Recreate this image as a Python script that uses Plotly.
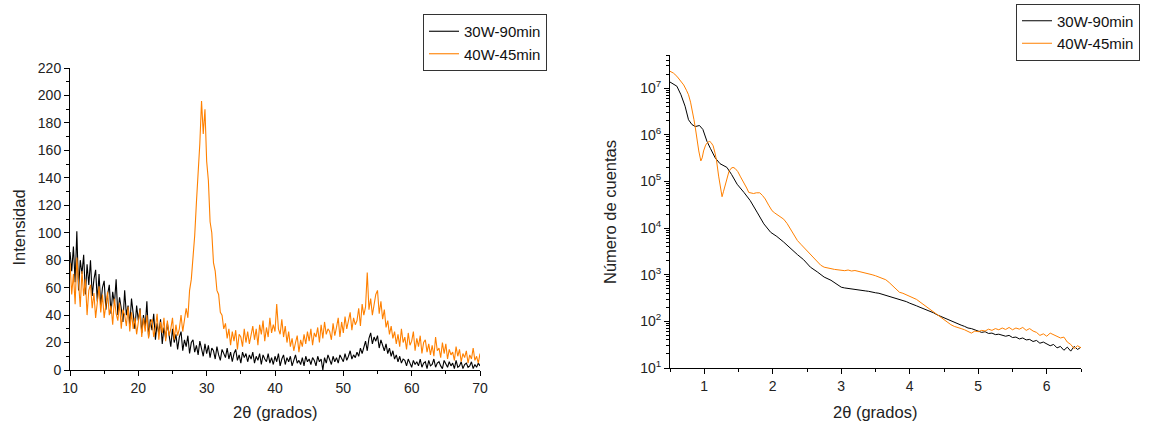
import numpy as np
import plotly.graph_objects as go

# ---------------- Left chart data (XRD, 2theta 10..70, step 0.25) ----------------
xrd_theta = np.arange(10, 70.001, 0.25)

xrd_30w = [
    86, 72, 90, 64, 101, 58, 80, 70, 84, 55, 77, 62, 80, 54, 66, 73,
    50, 70, 47, 60, 65, 44, 55, 62, 41, 57, 48, 66, 40, 53, 45, 35,
    58, 40, 47, 33, 52, 38, 30, 47, 36, 45, 27, 40, 31, 50, 24, 37,
    29, 41, 22, 34, 26, 37, 19, 31, 23, 34, 27, 17, 30, 20, 26, 15,
    24, 28, 14, 22, 17, 25, 12, 20, 22, 13, 18, 11, 21, 15, 10, 19,
    12, 18, 9, 16, 14, 8, 17, 11, 7, 15, 12, 9, 16, 8, 13, 6,
    12, 15, 7, 11, 5, 13, 9, 12, 6, 11, 8, 13, 5, 10, 7, 12,
    4, 11, 8, 6, 12, 5, 9, 4, 10, 6, 12, 3, 8, 11, 4, 9,
    6, 10, 3, 8, 11, 5, 7, 4, 9, 3, 10, 6, 8, 4, 9, 7,
    3, 10, 6, 8, 0, 9, 5, 11, 7, 4, 10, 6, 9, 5, 11, 8,
    6, 12, 7, 10, 14, 8, 11, 9, 13, 10, 16, 12, 17, 21, 14, 23,
    27, 19, 24, 21, 25, 16, 22, 18, 14, 19, 12, 16, 10, 14, 8, 11,
    6, 10, 5, 8, 7, 3, 8, 5, 2, 7, 4, 6, 3, 8, 2, 5,
    6, 1, 7, 3, 4, 8, 2, 5, 6, 3, 1, 7, 4, 2, 6, 3,
    5, 1, 7, 2, 3, 6, 1, 4, 5, 2, 3, 6, 1, 4, 2, 5,
    3,
]

xrd_40w = [
    78, 55, 70, 48, 82, 60, 46, 72, 54, 66, 40, 58, 62, 45, 56, 38,
    52, 61, 42, 55, 38, 50, 57, 40, 47, 33, 52, 41, 36, 49, 30, 44,
    40, 32, 46, 28, 42, 30, 38, 26, 35, 44, 24, 38, 28, 40, 23, 34,
    37, 24, 31, 41, 22, 35, 27, 38, 21, 36, 25, 30, 38, 22, 33, 25,
    30, 40, 28, 36, 45, 38, 58, 66, 82, 98, 122, 140, 165, 196, 172, 190,
    152, 138, 108, 100, 78, 72, 58, 55, 42, 40, 30, 34, 23, 30, 18, 28,
    21, 29, 15, 26, 24, 17, 30, 20, 28, 19, 25, 32, 22, 30, 18, 33,
    26, 36, 21, 31, 24, 38, 27, 33, 28, 48, 30, 26, 37, 24, 32, 20,
    28, 17, 23, 14, 20, 25, 13, 22, 17, 26, 19, 28, 21, 30, 18, 27,
    24, 31, 20, 33, 23, 35, 26, 30, 28, 22, 34, 25, 31, 38, 24, 35,
    27, 39, 30, 36, 42, 29, 38, 33, 36, 45, 32, 48, 40, 46, 71, 44,
    52, 40, 49, 55, 58, 41, 50, 37, 44, 31, 36, 26, 32, 23, 28, 19,
    26, 17, 30, 20, 24, 15, 27, 18, 21, 28, 14, 23, 17, 25, 12, 20,
    22, 13, 19, 11, 18, 10, 24, 14, 16, 9, 20, 12, 19, 8, 15, 11,
    13, 7, 17, 10, 15, 6, 12, 9, 14, 5, 11, 8, 16, 7, 10, 5,
    12,
]

# ---------------- Right chart data (XRR, log counts) ----------------
xrr_30w_theta = [
    0.50, 0.55, 0.60, 0.66, 0.72, 0.77, 0.82, 0.87, 0.93, 0.98, 1.04, 1.09,
    1.16, 1.23, 1.33, 1.40, 1.48, 1.58, 1.67, 1.77, 1.87, 1.97, 2.06, 2.16,
    2.26, 2.36, 2.45, 2.55, 2.65, 2.75, 2.85, 2.92,
    3.00, 3.05, 3.10, 3.15, 3.20, 3.25, 3.30, 3.35, 3.40, 3.45, 3.50, 3.55,
    3.60, 3.65, 3.70, 3.75, 3.80, 3.85, 3.90, 3.95, 4.00, 4.05, 4.10, 4.15,
    4.20, 4.25, 4.30, 4.35, 4.40, 4.45, 4.50, 4.55, 4.60, 4.65, 4.70, 4.75,
    4.80, 4.85, 4.90, 4.95, 5.00, 5.05, 5.10, 5.15, 5.20, 5.25, 5.30, 5.35,
    5.40, 5.45, 5.50, 5.55, 5.60, 5.65, 5.70, 5.75, 5.80, 5.85, 5.90, 5.95,
    6.00, 6.05, 6.10, 6.15, 6.20, 6.25, 6.30, 6.35, 6.40, 6.45, 6.50,
]
xrr_30w = [
    1.35e7, 1.2e7, 1.1e7, 7.2e6, 4.1e6, 2.1e6, 1.66e6, 1.5e6, 1.58e6, 1.3e6, 7.2e5, 5.1e5,
    3.2e5, 2.4e5, 2.0e5, 1.4e5, 8.7e4, 5.8e4, 3.9e4, 2.2e4, 1.23e4, 8.1e3, 6.6e3, 5.0e3,
    3.6e3, 2.7e3, 2.1e3, 1.45e3, 1.15e3, 890, 760, 650,
    540, 520, 505, 500, 480, 470, 462, 450, 440, 420, 410, 400,
    380, 370, 352, 335, 320, 295, 280, 265, 245, 232, 215, 200,
    188, 175, 160, 152, 138, 128, 120, 108, 100, 95, 86, 83,
    78, 72, 70, 66, 62, 58, 60, 55, 56, 52, 53, 50,
    48, 50, 45, 46, 42, 44, 40, 41, 37, 39, 34, 36,
    33, 30, 32, 27, 29, 24, 28, 23, 29, 25, 28,
]

xrr_40w_theta = [
    0.50, 0.55, 0.60, 0.65, 0.70, 0.74, 0.77, 0.80, 0.82, 0.85, 0.87, 0.90,
    0.92, 0.95, 0.97, 0.99, 1.02, 1.05, 1.08, 1.10, 1.13, 1.16, 1.18, 1.21,
    1.23, 1.26, 1.28, 1.31, 1.34, 1.36, 1.39, 1.42, 1.45, 1.49, 1.53, 1.58,
    1.62, 1.65, 1.69, 1.72, 1.76, 1.81, 1.85, 1.89, 1.94, 1.99, 2.03, 2.06,
    2.11, 2.16, 2.21, 2.26, 2.31, 2.36, 2.41, 2.45, 2.50, 2.55, 2.60, 2.65,
    2.70, 2.75, 2.80, 2.85, 2.90, 2.95, 3.00, 3.05, 3.10, 3.15, 3.20, 3.25,
    3.30, 3.35, 3.40, 3.45, 3.50, 3.55, 3.60, 3.65, 3.70, 3.75, 3.80, 3.85,
    3.90, 3.95, 4.00, 4.05, 4.10, 4.15, 4.20, 4.25, 4.30, 4.35, 4.40, 4.45,
    4.50, 4.55, 4.60, 4.65, 4.70, 4.75, 4.80, 4.85, 4.90, 4.95, 5.00, 5.05,
    5.10, 5.15, 5.20, 5.25, 5.30, 5.35, 5.40, 5.45, 5.50, 5.55, 5.60, 5.65,
    5.70, 5.75, 5.80, 5.85, 5.90, 5.95, 6.00, 6.05, 6.10, 6.15, 6.20, 6.25,
    6.30, 6.35, 6.40, 6.45, 6.50,
]
xrr_40w = [
    2.3e7, 2.1e7, 1.8e7, 1.45e7, 1.17e7, 9.0e6, 7.2e6, 5.0e6, 3.7e6, 2.1e6, 1.4e6, 6.5e5,
    4.5e5, 2.75e5, 3.2e5, 4.5e5, 6.0e5, 6.9e5, 7.2e5, 6.8e5, 5.8e5, 3.9e5, 2.75e5, 1.3e5,
    8.7e4, 4.7e4, 6.0e4, 8.7e4, 1.3e5, 1.62e5, 1.9e5, 2.0e5, 1.9e5, 1.62e5, 1.25e5, 9.5e4,
    7.2e4, 5.8e4, 5.5e4, 5.5e4, 5.7e4, 5.7e4, 5.0e4, 4.2e4, 3.1e4, 2.35e4, 2.1e4, 1.95e4,
    1.75e4, 1.55e4, 1.25e4, 9.5e3, 7.0e3, 5.4e3, 4.5e3, 3.9e3, 3.3e3, 2.8e3, 2.3e3, 1.86e3,
    1.6e3, 1.45e3, 1.38e3, 1.35e3, 1.3e3, 1.28e3, 1.25e3, 1.22e3, 1.26e3, 1.2e3, 1.23e3, 1.18e3,
    1.15e3, 1.12e3, 1.06e3, 1.0e3, 950, 880, 830, 780, 680, 580, 480, 420,
    400, 370, 350, 320, 295, 260, 230, 200, 180, 160, 140, 120,
    108, 95, 85, 78, 75, 70, 66, 60, 56, 62, 60, 64,
    62, 68, 64, 70, 66, 72, 67, 74, 66, 72, 68, 74,
    64, 70, 62, 58, 50, 54, 48, 56, 52, 48, 44, 46,
    36, 32, 26, 30, 27,
]

series_names = ["30W-90min", "40W-45min"]
series_colors = ["#000000", "#FF8000"]

log_tickvals = [1e1, 1e2, 1e3, 1e4, 1e5, 1e6, 1e7]
log_ticktext = ["10<sup>1</sup>", "10<sup>2</sup>", "10<sup>3</sup>", "10<sup>4</sup>",
                "10<sup>5</sup>", "10<sup>6</sup>", "10<sup>7</sup>"]

W, H = 1150, 423
FONT = "Liberation Sans, Arial, sans-serif"
TXT = "#222222"

fig = go.Figure()

fig.add_trace(go.Scatter(x=xrd_theta, y=xrd_30w, mode="lines", name=series_names[0],
                         line=dict(color=series_colors[0], width=1.1),
                         xaxis="x", yaxis="y", legend="legend"))
fig.add_trace(go.Scatter(x=xrd_theta, y=xrd_40w, mode="lines", name=series_names[1],
                         line=dict(color=series_colors[1], width=1.1),
                         xaxis="x", yaxis="y", legend="legend"))
fig.add_trace(go.Scatter(x=xrr_30w_theta, y=xrr_30w, mode="lines", name=series_names[0],
                         line=dict(color=series_colors[0], width=1.0),
                         xaxis="x2", yaxis="y2", legend="legend2"))
fig.add_trace(go.Scatter(x=xrr_40w_theta, y=xrr_40w, mode="lines", name=series_names[1],
                         line=dict(color=series_colors[1], width=1.0),
                         xaxis="x2", yaxis="y2", legend="legend2"))

axis_common = dict(showline=True, linecolor="black", linewidth=1, ticks="outside",
                   ticklen=5, tickcolor="black", tickwidth=1, showgrid=False, zeroline=False,
                   tickfont=dict(family=FONT, size=14, color=TXT),
                   mirror=False, automargin=False)

legend_common = dict(bgcolor="white", bordercolor="#333", borderwidth=1,
                     font=dict(family=FONT, size=15, color="#111"),
                     xanchor="left", yanchor="middle", tracegroupgap=0,
                     itemwidth=30)

fig.update_layout(
    width=W, height=H,
    margin=dict(l=0, r=0, t=0, b=0),
    paper_bgcolor="white", plot_bgcolor="white",
    xaxis=dict(domain=[70 / W, 480 / W], range=[10, 70], tickvals=[10, 20, 30, 40, 50, 60, 70],
               minor=dict(ticks="outside", ticklen=3, dtick=5, tickcolor="black"),
               anchor="y", **axis_common),
    yaxis=dict(domain=[(H - 370) / H, (H - 68) / H], range=[0, 220], dtick=20,
               minor=dict(ticks="outside", ticklen=3, dtick=10, tickcolor="black"),
               anchor="x", **axis_common),
    xaxis2=dict(domain=[670 / W, 1081 / W], range=[0.5, 6.5], tickvals=[1, 2, 3, 4, 5, 6],
                minor=dict(ticks="outside", ticklen=3, dtick=0.5, tick0=0.5, tickcolor="black"),
                anchor="y2", **axis_common),
    yaxis2=dict(domain=[(H - 368) / H, (H - 55) / H], type="log", range=[1, 7.71],
                tickmode="array", tickvals=log_tickvals, ticktext=log_ticktext,
                minor=dict(ticks="outside", ticklen=3, dtick="D1", tickcolor="black"),
                anchor="x2", **axis_common),
    legend=dict(x=423 / W, y=(H - 42.5) / H, **legend_common),
    legend2=dict(x=1016 / W, y=(H - 32) / H, **legend_common),
)

title_font = dict(family=FONT, size=16.5, color=TXT)
axis_titles = [
    ("2θ (grados)", 275, 412, 0),
    ("Intensidad", 18.5, 228, -90),
    ("2θ (grados)", 875, 412, 0),
    ("Número de cuentas", 610, 212, -90),
]
for text, px, py, ang in axis_titles:
    fig.add_annotation(text=text, x=px / W, y=(H - py) / H, xref="paper", yref="paper",
                       xanchor="center", yanchor="middle", showarrow=False,
                       textangle=ang, font=title_font)

fig.write_html("out.html")
